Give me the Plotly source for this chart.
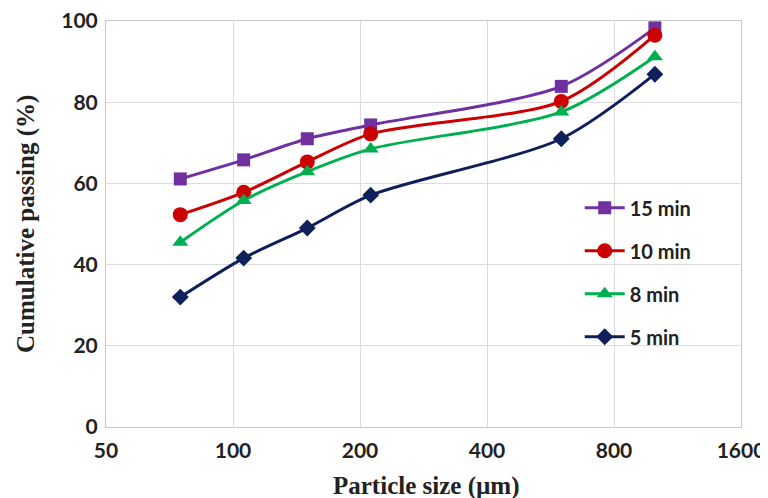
import plotly.graph_objects as go

sizes = [75, 106, 150, 212, 600, 1000]
series_names = ["15 min", "10 min", "8 min", "5 min"]
passing_15 = [61.1, 65.8, 71.0, 74.4, 83.9, 98.3]
passing_10 = [52.3, 57.8, 65.3, 72.2, 80.2, 96.5]
passing_8 = [45.5, 55.8, 62.9, 68.5, 77.6, 91.2]
passing_5 = [32.0, 41.6, 49.0, 57.1, 71.0, 86.9]
x_ticks = [50, 100, 200, 400, 800, 1600]
y_ticks = [0, 20, 40, 60, 80, 100]
x_title = "Particle size (µm)"
y_title = "Cumulative passing (%)"

colors = ["#7030A0", "#CC0000", "#00B050", "#0E1F5B"]
symbols = ["square", "circle", "triangle-up", "diamond"]
msizes = [13, 15, 14, 13]
values = [passing_15, passing_10, passing_8, passing_5]

fig = go.Figure()
for name, vals, c, s, ms in zip(series_names, values, colors, symbols, msizes):
    fig.add_trace(go.Scatter(
        x=sizes, y=vals, name=name, legendgroup=name,
        mode="lines+markers",
        line=dict(color=c, width=3, shape="spline", smoothing=0.8),
        marker=dict(color=c, symbol=s, size=ms),
        cliponaxis=False,
    ))

tickfont = dict(family="Lato", size=21, color="#222222", weight="bold")
titlefont = dict(family="Liberation Serif", size=25, color="#222222", weight="bold")

# white panel behind the legend (hides gridlines there, as in the reference)
fig.add_shape(type="rect", xref="paper", yref="paper",
              x0=0.667, x1=0.99, y0=0.153, y1=0.601,
              fillcolor="white", line=dict(width=0), layer="between")

fig.add_annotation(text=x_title, xref="paper", yref="paper",
                   x=0.505, y=-0.145, xanchor="center", yanchor="middle",
                   showarrow=False, font=titlefont)
fig.add_annotation(text=y_title, xref="paper", yref="paper",
                   x=-0.126, y=0.5, xanchor="center", yanchor="middle",
                   textangle=-90, showarrow=False, font=titlefont)

# page body has an 8px margin, so the figure is 8px smaller and margins shifted
fig.update_layout(
    width=760, height=490,
    margin=dict(l=98, r=27, t=13, b=71),
    paper_bgcolor="white", plot_bgcolor="white",
    showlegend=True,
    legend=dict(
        x=0.746, y=0.588, xanchor="left", yanchor="top",
        bgcolor="rgba(255,255,255,0)", borderwidth=0,
        font=dict(family="Lato", size=20, color="#222222", weight="bold"),
        tracegroupgap=14, itemwidth=40,
    ),
    xaxis=dict(
        type="log", range=[1.69897, 3.20412], automargin=False,
        tickvals=x_ticks, ticktext=[str(v) for v in x_ticks],
        showgrid=True, gridcolor="#DCDCDC", gridwidth=1,
        showline=True, linecolor="#C8C8C8", linewidth=1, mirror=True,
        ticks="outside", ticklen=5, tickcolor="rgba(0,0,0,0)",
        tickfont=tickfont, ticklabeloverflow="allow",
        zeroline=False,
    ),
    yaxis=dict(
        range=[0, 100], tickvals=y_ticks, automargin=False,
        showgrid=True, gridcolor="#DCDCDC", gridwidth=1,
        showline=True, linecolor="#C8C8C8", linewidth=1, mirror=True,
        ticks="outside", ticklen=3, tickcolor="rgba(0,0,0,0)",
        tickfont=tickfont, ticklabeloverflow="allow",
        zeroline=False,
    ),
)

fig.write_html("out.html")
